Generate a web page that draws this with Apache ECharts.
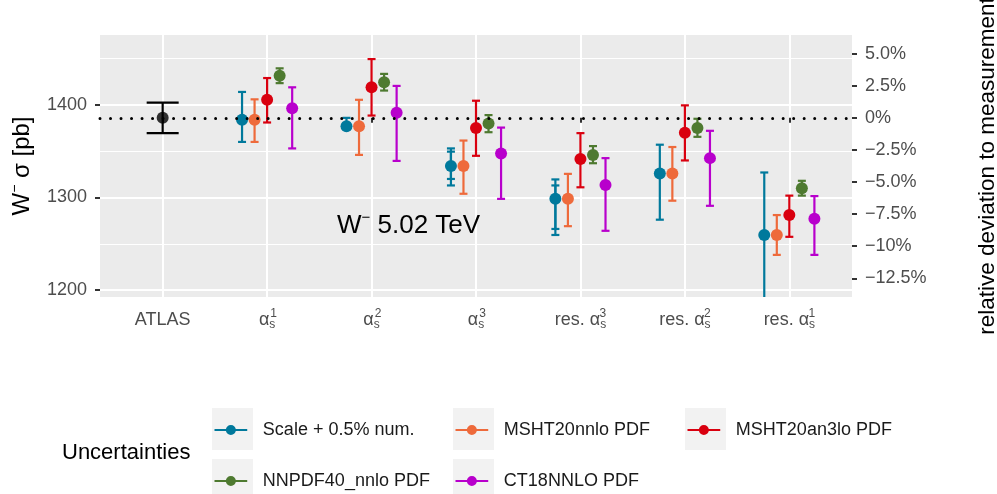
<!DOCTYPE html>
<html>
<head>
<meta charset="utf-8">
<title>W- cross section</title>
<script src="https://cdn.jsdelivr.net/npm/echarts@6/dist/echarts.min.js"></script>
<style>
  html, body { margin: 0; padding: 0; background: #fff; }
  #chart { width: 997px; height: 494px; }
</style>
</head>
<body>
<div id="chart"></div>
<script>
// x categories (ATLAS + six alpha_s variants), tick labels
const catBase = ['ATLAS', 'α', 'α', 'α', 'res. α', 'res. α', 'res. α']
const catSup = ['', '1', '2', '3', '3', '2', '1']
const leftTicks = [1200, 1300, 1400]
const minorTicks = [1250, 1350, 1450]
const rightTicks = [-12.5, -10, -7.5, -5, -2.5, 0, 2.5, 5]
const rightTickLabels = ['−12.5%', '−10%', '−7.5%', '−5.0%', '−2.5%', '0%', '2.5%', '5.0%']

// measurement: central, low, high
const atlas = [1386, 1369.5, 1402.5]

const models = ['Scale + 0.5% num.', 'MSHT20nnlo PDF', 'MSHT20an3lo PDF', 'NNPDF40_nnlo PDF', 'CT18NNLO PDF']
const colors = ['#00799C', '#EE6A3B', '#D9000F', '#4E7A30', '#B800CC']

// predictions, order: a1, a2, a3, res a3, res a2, res a1
const scaleCentral = [1384, 1377, 1334, 1298.5, 1326, 1259.5]
const scaleHigh = [1414, 1386, 1353, 1319.5, 1357, 1327]
const scaleLow = [1360, 1374, 1313, 1259.5, 1276, 1180]
const scaleInnerHigh = [null, null, 1349.5, 1313, null, null]
const scaleInnerLow = [null, null, 1320, 1266, null, null]

const mshtCentral = [1384, 1377, 1334, 1298.5, 1326, 1259.5]
const mshtHigh = [1406, 1405.5, 1361.5, 1325.5, 1354.5, 1281]
const mshtLow = [1360, 1346, 1304, 1269, 1296.5, 1238]

const an3loCentral = [1405.5, 1419, 1375, 1341.5, 1370, 1281]
const an3loHigh = [1429, 1449.5, 1404.5, 1369.5, 1399.5, 1302]
const an3loLow = [1381, 1388.5, 1345, 1311, 1340, 1257.5]

const nnpdfCentral = [1431.5, 1424.5, 1380, 1346, 1375, 1310]
const nnpdfHigh = [1439.5, 1433.5, 1389, 1355.5, 1385, 1318]
const nnpdfLow = [1423.5, 1415.5, 1370.5, 1337, 1365.5, 1302]

const ct18Central = [1396.5, 1391.5, 1347.5, 1313.5, 1342.5, 1277]
const ct18High = [1419, 1420.5, 1375.5, 1342.5, 1372, 1301.5]
const ct18Low = [1353, 1339.5, 1298.5, 1264, 1291, 1238]

const yMin = 1192.5
const yMax = 1475.5
const dodge = [-0.24, -0.12, 0, 0.12, 0.24]

const centrals = [scaleCentral, mshtCentral, an3loCentral, nnpdfCentral, ct18Central]
const highs = [scaleHigh, mshtHigh, an3loHigh, nnpdfHigh, ct18High]
const lows = [scaleLow, mshtLow, an3loLow, nnpdfLow, ct18Low]

const pct = v => (v / atlas[0] - 1) * 100
const font = 'Liberation Sans, Arial, Helvetica, sans-serif'

function errorBar(capHalf) {
  return function (params, api) {
    const x = api.value(0)
    const lo = api.coord([x, api.value(1)])
    const hi = api.coord([x, api.value(2)])
    const cs = params.coordSys
    const top = cs.y
    const bot = cs.y + cs.height
    const style = { stroke: api.visual('color'), lineWidth: 2.2 }
    const kids = [{
      type: 'line',
      shape: { x1: lo[0], y1: Math.min(lo[1], bot), x2: hi[0], y2: Math.max(hi[1], top) },
      style
    }]
    if (hi[1] >= top) {
      kids.push({ type: 'line', shape: { x1: hi[0] - capHalf, y1: hi[1], x2: hi[0] + capHalf, y2: hi[1] }, style })
    }
    if (lo[1] <= bot) {
      kids.push({ type: 'line', shape: { x1: lo[0] - capHalf, y1: lo[1], x2: lo[0] + capHalf, y2: lo[1] }, style })
    }
    return { type: 'group', children: kids }
  }
}

const barSeries = []
const pointSeries = []

barSeries.push({
  name: 'ATLAS_bar',
  type: 'custom',
  renderItem: errorBar(16),
  itemStyle: { color: '#000' },
  encode: { x: 0, y: [1, 2] },
  data: [[1, atlas[1], atlas[2]]],
  z: 3
})
pointSeries.push({
  name: 'ATLAS',
  type: 'scatter',
  symbolSize: 12,
  itemStyle: { color: '#000' },
  data: [[1, atlas[0]]],
  z: 4,
  markLine: {
    silent: true,
    symbol: ['none', 'none'],
    label: { show: false },
    lineStyle: { color: '#000', width: 3, type: [0.01, 10.5], cap: 'round' },
    data: [{ yAxis: atlas[0] }]
  }
})

models.forEach((name, k) => {
  barSeries.push({
    name: name + '_bar',
    type: 'custom',
    renderItem: errorBar(4),
    itemStyle: { color: colors[k] },
    encode: { x: 0, y: [1, 2] },
    data: centrals[k].map((_, g) => [g + 2 + dodge[k], lows[k][g], highs[k][g]]),
    z: 3
  })
  pointSeries.push({
    name,
    type: 'scatter',
    symbolSize: 12,
    itemStyle: { color: colors[k], opacity: 1 },
    data: centrals[k].map((v, g) => [g + 2 + dodge[k], v]),
    z: 4
  })
})

// inner caps of the scale band
barSeries.push({
  name: 'scale_inner',
  type: 'custom',
  renderItem: errorBar(4),
  itemStyle: { color: colors[0] },
  encode: { x: 0, y: [1, 2] },
  data: scaleInnerHigh
    .map((h, g) => [g + 2 + dodge[0], scaleInnerLow[g], h])
    .filter(d => d[2] !== null),
  z: 3
})

const keyIcon = 'path://M0,4L36,4L36,6.2L0,6.2Z M12.5,5A5.5,5.5 0 1,1 23.5,5A5.5,5.5 0 1,1 12.5,5Z'
const legendLeft = [214.5, 455.5, 687.5, 214.5, 455.5]
const legendTop = [420, 420, 420, 471, 471]
const keyBoxes = [[212, 408], [453, 408], [685, 408], [212, 459], [453, 459]]

const chart = echarts.init(document.getElementById('chart'))
chart.setOption({
  animation: false,
  textStyle: { fontFamily: font },
  grid: {
    left: 100, right: 145, top: 35, bottom: 197,
    show: true, backgroundColor: '#EBEBEB', borderWidth: 0,
    containLabel: false, outerBoundsMode: 'none'
  },
  xAxis: [{
    type: 'value',
    min: 0.4,
    max: 7.6,
    axisLine: { show: false },
    axisTick: { length: 5, lineStyle: { color: '#333', width: 2 }, customValues: [1, 2, 3, 4, 5, 6, 7] },
    splitLine: { show: true, lineStyle: { color: '#fff', width: 2 } },
    axisLabel: {
      customValues: [1, 2, 3, 4, 5, 6, 7],
      margin: 12,
      formatter: v => {
        const i = Math.round(v) - 1
        return catSup[i] ? `{t|${catBase[i]}}{s|s}` : `{t|${catBase[i]}}`
      },
      rich: {
        t: { fontSize: 18, lineHeight: 22, color: '#4D4D4D', fontFamily: font },
        s: { fontSize: 12, lineHeight: 8, verticalAlign: 'bottom', color: '#4D4D4D', fontFamily: font }
      }
    }
  }, {
    type: 'value',
    min: 0.4,
    max: 7.6,
    position: 'bottom',
    axisLine: { show: false },
    axisTick: { show: false },
    splitLine: { show: false },
    axisLabel: {
      customValues: [2, 3, 4, 5, 6, 7],
      margin: 11,
      formatter: v => {
        const i = Math.round(v) - 1
        return catBase[i].length > 1 ? `{r|${catSup[i]}}` : `{a|${catSup[i]}}`
      },
      rich: {
        a: { fontSize: 12, lineHeight: 12, color: '#4D4D4D', padding: [0, 0, 0, 13], fontFamily: font },
        r: { fontSize: 12, lineHeight: 12, color: '#4D4D4D', padding: [0, 0, 0, 45], fontFamily: font }
      }
    }
  }],
  yAxis: [{
    type: 'value',
    min: yMin,
    max: yMax,
    position: 'left',
    axisLine: { show: false },
    axisTick: { length: 5, lineStyle: { color: '#333', width: 2 }, customValues: leftTicks },
    splitLine: { show: true, lineStyle: { color: '#fff', width: 2 } },
    axisLabel: { customValues: leftTicks, margin: 13, fontSize: 18, color: '#4D4D4D', formatter: v => String(v) },
    name: '{w|W}{m|−}{w| σ [pb]}',
    nameLocation: 'middle',
    nameRotate: 90,
    nameGap: 64,
    nameTextStyle: {
      rich: {
        w: { fontSize: 24, lineHeight: 28, color: '#000', fontFamily: font },
        m: { fontSize: 14, lineHeight: 14, verticalAlign: 'top', color: '#000', fontFamily: font }
      }
    }
  }, {
    type: 'value',
    min: pct(yMin),
    max: pct(yMax),
    position: 'right',
    axisLine: { show: false },
    axisTick: { length: 5, lineStyle: { color: '#333', width: 2 }, customValues: rightTicks },
    splitLine: { show: false },
    axisLabel: {
      customValues: rightTicks,
      margin: 13,
      fontSize: 18,
      color: '#4D4D4D',
      formatter: v => rightTickLabels[rightTicks.findIndex(t => Math.abs(t - v) < 1e-6)]
    },
    name: 'relative deviation to measurement',
    nameLocation: 'middle',
    nameRotate: 90,
    nameGap: 124,
    nameTextStyle: { fontSize: 22.5, color: '#000' }
  }, {
    type: 'value',
    min: yMin,
    max: yMax,
    position: 'left',
    axisLine: { show: false },
    axisTick: { show: false, customValues: minorTicks },
    axisLabel: { show: false },
    splitLine: { show: true, lineStyle: { color: '#fff', width: 1 } }
  }],
  legend: models.map((name, i) => ({
    data: [{ name, icon: keyIcon }],
    left: legendLeft[i],
    top: legendTop[i],
    padding: 0,
    itemWidth: 36,
    itemHeight: 10,
    selectedMode: false,
    textStyle: { fontSize: 18, lineHeight: 20, color: '#1A1A1A', padding: [0, 0, 0, 9] }
  })),
  graphic: [
    ...keyBoxes.map(b => ({
      type: 'rect',
      shape: { x: b[0], y: b[1], width: 41, height: 42 },
      style: { fill: '#F2F2F2' },
      z: 0
    })),
    {
      type: 'text',
      left: 62,
      top: 442,
      style: { text: 'Uncertainties', fontSize: 22, fill: '#000', fontFamily: font }
    },
    {
      type: 'text',
      left: 337,
      top: 210,
      z: 100,
      style: {
        text: '{w|W}{m|−}{w| 5.02 TeV}',
        rich: {
          w: { fontSize: 26, lineHeight: 32, fill: '#000', fontFamily: font },
          m: { fontSize: 15, lineHeight: 15, verticalAlign: 'top', fill: '#000', fontFamily: font }
        }
      }
    }
  ],
  series: [...barSeries, ...pointSeries]
})
</script>
</body>
</html>
